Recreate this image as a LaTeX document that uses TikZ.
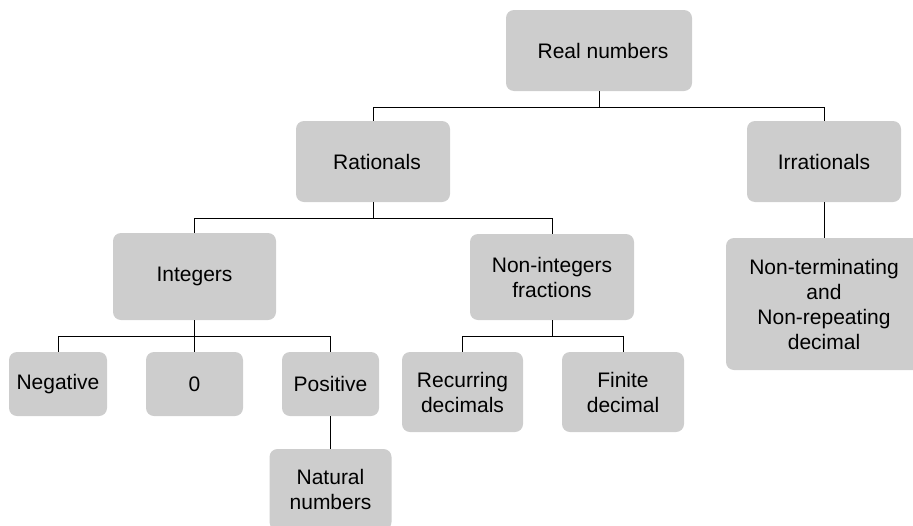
\documentclass[tikz,border=0pt]{standalone}
\usepackage{fontspec}
\setmainfont{Liberation Sans}
\begin{document}
\begin{tikzpicture}[x=1pt,y=1pt,
  box/.style={fill=boxgray, rounded corners=8pt, inner sep=0pt, align=center,
    font=\fontsize{21}{25}\selectfont},
  link/.style={draw=black, line width=0.9pt}]
\definecolor{boxgray}{HTML}{CDCDCD}
\clip (0,0) rectangle (913,-525);
\node[box, minimum width=186, minimum height=81] (real) at (599,-50.5) {\hspace*{8pt}Real numbers};
\node[box, minimum width=154, minimum height=81] (rat) at (373,-161.5) {\hspace*{8pt}Rationals};
\node[box, minimum width=154, minimum height=81] (irr) at (824,-161.5) {Irrationals};
\node[box, minimum width=163, minimum height=87] (int) at (194.5,-276.5) {Integers};
\node[box, minimum width=164, minimum height=86] (nonint) at (552,-277) {Non-integers\\fractions};
\node[box, minimum width=196, minimum height=132] (nonterm) at (824,-304) {Non-terminating\\and\\Non-repeating\\decimal};
\node[box, minimum width=98, minimum height=64] (neg) at (58,-384) {Negative};
\node[box, minimum width=97, minimum height=64] (zero) at (194.5,-384) {0};
\node[box, minimum width=97, minimum height=64] (pos) at (330.5,-384) {Positive};
\node[box, minimum width=121, minimum height=80] (rec) at (462.5,-392) {Recurring\\decimals};
\node[box, minimum width=122, minimum height=80] (fin) at (623,-392) {Finite\\decimal};
\node[box, minimum width=122, minimum height=81] (nat) at (330.5,-489.5) {Natural\\numbers};
\draw[link] (real.south) -- ++(0,-16) -| (rat.north);
\draw[link] (real.south) -- ++(0,-16) -| (irr.north);
\draw[link] (rat.south) -- ++(0,-16) -| (int.north);
\draw[link] (rat.south) -- ++(0,-16) -| (nonint.north);
\draw[link] (int.south) -- ++(0,-16) -| (neg.north);
\draw[link] (int.south) -- (zero.north);
\draw[link] (int.south) -- ++(0,-16) -| (pos.north);
\draw[link] (nonint.south) -- ++(0,-16) -| (rec.north);
\draw[link] (nonint.south) -- ++(0,-16) -| (fin.north);
\draw[link] (pos.south) -- (nat.north);
\draw[link] (irr.south) -- (nonterm.north);
\end{tikzpicture}
\end{document}
